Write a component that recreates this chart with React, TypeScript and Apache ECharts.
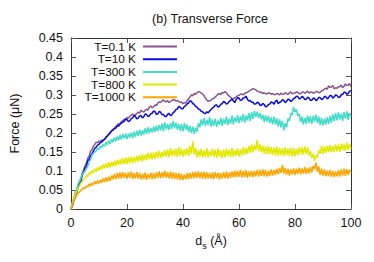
import React, { useEffect, useRef } from "react";
import * as echarts from "echarts";

const seriesNames = ["T=0.1 K", "T=10 K", "T=300 K", "T=800 K", "T=1000 K"];
const seriesColors = ["#8c5590", "#0a0af0", "#40dcc8", "#e2e800", "#ffa500"];

const xTicks = [0, 20, 40, 60, 80, 100];
const yTicks = [0, 0.05, 0.1, 0.15, 0.2, 0.25, 0.3, 0.35, 0.4, 0.45];

// d_s in Angstrom, step 0.5
const ds: number[] = Array.from({ length: 201 }, (_, i) => i / 2);

const forceT01 = [
  0.000, 0.014, 0.026, 0.036, 0.050, 0.058, 0.072, 0.080, 0.094, 0.102,
  0.114, 0.121, 0.134, 0.140, 0.152, 0.157, 0.166, 0.170, 0.176, 0.174,
  0.179, 0.177, 0.182, 0.180, 0.184, 0.187, 0.193, 0.196, 0.202, 0.205,
  0.210, 0.212, 0.217, 0.221, 0.225, 0.224, 0.230, 0.233, 0.236, 0.234,
  0.241, 0.239, 0.244, 0.247, 0.250, 0.246, 0.248, 0.251, 0.255, 0.252,
  0.260, 0.257, 0.255, 0.259, 0.263, 0.260, 0.268, 0.271, 0.266, 0.269,
  0.274, 0.272, 0.279, 0.282, 0.280, 0.284, 0.287, 0.283, 0.282, 0.285,
  0.280, 0.283, 0.285, 0.288, 0.287, 0.284, 0.286, 0.283, 0.280, 0.282,
  0.277, 0.280, 0.279, 0.285, 0.290, 0.295, 0.300, 0.298, 0.304, 0.302,
  0.306, 0.309, 0.308, 0.305, 0.303, 0.298, 0.292, 0.287, 0.283, 0.285,
  0.286, 0.290, 0.291, 0.295, 0.298, 0.302, 0.304, 0.301, 0.307, 0.305,
  0.309, 0.306, 0.300, 0.297, 0.294, 0.291, 0.290, 0.293, 0.295, 0.298,
  0.299, 0.302, 0.303, 0.300, 0.304, 0.306, 0.307, 0.310, 0.312, 0.314,
  0.317, 0.315, 0.314, 0.310, 0.309, 0.307, 0.307, 0.304, 0.306, 0.303,
  0.303, 0.306, 0.305, 0.302, 0.304, 0.301, 0.301, 0.304, 0.303, 0.300,
  0.305, 0.302, 0.302, 0.306, 0.304, 0.301, 0.306, 0.308, 0.303, 0.305,
  0.305, 0.308, 0.307, 0.303, 0.304, 0.307, 0.308, 0.305, 0.307, 0.310,
  0.305, 0.308, 0.308, 0.305, 0.306, 0.309, 0.309, 0.306, 0.307, 0.311,
  0.312, 0.316, 0.318, 0.315, 0.324, 0.320, 0.321, 0.325, 0.316, 0.319,
  0.318, 0.322, 0.322, 0.326, 0.319, 0.323, 0.329, 0.325, 0.326, 0.330,
  0.322,
];

const forceT10 = [
  0.000, 0.008, 0.022, 0.030, 0.041, 0.055, 0.065, 0.072, 0.088, 0.096,
  0.108, 0.112, 0.127, 0.131, 0.140, 0.146, 0.152, 0.160, 0.163, 0.168,
  0.170, 0.175, 0.176, 0.181, 0.183, 0.190, 0.192, 0.197, 0.200, 0.206,
  0.207, 0.212, 0.213, 0.219, 0.218, 0.223, 0.226, 0.229, 0.231, 0.237,
  0.236, 0.230, 0.232, 0.238, 0.240, 0.246, 0.244, 0.237, 0.239, 0.245,
  0.246, 0.240, 0.243, 0.250, 0.249, 0.243, 0.245, 0.251, 0.252, 0.258,
  0.256, 0.249, 0.250, 0.257, 0.255, 0.248, 0.249, 0.244, 0.243, 0.249,
  0.252, 0.246, 0.247, 0.254, 0.256, 0.262, 0.263, 0.270, 0.268, 0.264,
  0.264, 0.270, 0.272, 0.277, 0.279, 0.285, 0.283, 0.277, 0.276, 0.270,
  0.268, 0.263, 0.262, 0.257, 0.256, 0.252, 0.251, 0.256, 0.253, 0.258,
  0.262, 0.266, 0.268, 0.273, 0.274, 0.268, 0.270, 0.276, 0.277, 0.283,
  0.281, 0.276, 0.278, 0.283, 0.286, 0.290, 0.284, 0.280, 0.289, 0.293,
  0.292, 0.286, 0.287, 0.292, 0.293, 0.297, 0.289, 0.284, 0.286, 0.281,
  0.281, 0.276, 0.276, 0.281, 0.279, 0.273, 0.273, 0.278, 0.275, 0.269,
  0.270, 0.275, 0.276, 0.282, 0.280, 0.276, 0.283, 0.287, 0.277, 0.281,
  0.282, 0.288, 0.286, 0.280, 0.283, 0.289, 0.288, 0.283, 0.285, 0.291,
  0.292, 0.297, 0.296, 0.290, 0.291, 0.296, 0.294, 0.288, 0.289, 0.294,
  0.292, 0.286, 0.286, 0.292, 0.291, 0.285, 0.288, 0.294, 0.293, 0.288,
  0.290, 0.296, 0.296, 0.290, 0.293, 0.299, 0.298, 0.292, 0.295, 0.300,
  0.299, 0.294, 0.294, 0.301, 0.301, 0.307, 0.307, 0.302, 0.304, 0.310,
  0.311,
];

const forceT300 = [
  0.000, 0.018, 0.030, 0.045, 0.052, 0.066, 0.072, 0.080, 0.090, 0.095,
  0.100, 0.106, 0.113, 0.124, 0.130, 0.142, 0.146, 0.150, 0.153, 0.160,
  0.157, 0.166, 0.161, 0.170, 0.165, 0.176, 0.169, 0.180, 0.171, 0.184,
  0.176, 0.188, 0.178, 0.191, 0.181, 0.194, 0.183, 0.197, 0.186, 0.199,
  0.184, 0.198, 0.188, 0.201, 0.186, 0.203, 0.190, 0.206, 0.192, 0.209,
  0.193, 0.207, 0.196, 0.212, 0.198, 0.215, 0.199, 0.213, 0.202, 0.217,
  0.203, 0.219, 0.205, 0.221, 0.207, 0.225, 0.204, 0.228, 0.210, 0.224,
  0.208, 0.226, 0.211, 0.231, 0.213, 0.227, 0.209, 0.224, 0.206, 0.223,
  0.204, 0.226, 0.209, 0.222, 0.203, 0.219, 0.200, 0.217, 0.198, 0.214,
  0.203, 0.226, 0.215, 0.236, 0.220, 0.240, 0.218, 0.235, 0.221, 0.242,
  0.217, 0.236, 0.219, 0.238, 0.216, 0.233, 0.222, 0.240, 0.219, 0.237,
  0.224, 0.243, 0.221, 0.238, 0.225, 0.246, 0.223, 0.241, 0.228, 0.247,
  0.226, 0.244, 0.230, 0.250, 0.227, 0.246, 0.233, 0.252, 0.231, 0.255,
  0.237, 0.258, 0.242, 0.256, 0.240, 0.253, 0.236, 0.248, 0.229, 0.246,
  0.230, 0.245, 0.226, 0.241, 0.223, 0.243, 0.222, 0.239, 0.217, 0.236,
  0.215, 0.232, 0.207, 0.226, 0.215, 0.238, 0.232, 0.252, 0.247, 0.268,
  0.255, 0.262, 0.245, 0.250, 0.229, 0.243, 0.222, 0.240, 0.225, 0.246,
  0.227, 0.244, 0.224, 0.245, 0.230, 0.248, 0.226, 0.243, 0.221, 0.240,
  0.220, 0.238, 0.222, 0.241, 0.224, 0.245, 0.227, 0.249, 0.231, 0.252,
  0.233, 0.254, 0.236, 0.251, 0.232, 0.255, 0.238, 0.257, 0.234, 0.252,
  0.244,
];

const forceT800 = [
  0.000, 0.015, 0.028, 0.038, 0.045, 0.055, 0.060, 0.068, 0.072, 0.078,
  0.081, 0.088, 0.086, 0.096, 0.091, 0.102, 0.095, 0.106, 0.098, 0.110,
  0.101, 0.113, 0.104, 0.117, 0.107, 0.120, 0.108, 0.123, 0.110, 0.124,
  0.112, 0.127, 0.113, 0.129, 0.116, 0.131, 0.117, 0.133, 0.118, 0.135,
  0.119, 0.136, 0.121, 0.138, 0.120, 0.137, 0.123, 0.140, 0.124, 0.142,
  0.126, 0.144, 0.127, 0.143, 0.129, 0.147, 0.130, 0.148, 0.131, 0.149,
  0.132, 0.151, 0.134, 0.153, 0.135, 0.150, 0.137, 0.155, 0.138, 0.157,
  0.136, 0.160, 0.140, 0.156, 0.139, 0.158, 0.137, 0.162, 0.140, 0.159,
  0.138, 0.157, 0.141, 0.160, 0.139, 0.166, 0.145, 0.178, 0.143, 0.160,
  0.136, 0.155, 0.138, 0.158, 0.135, 0.154, 0.137, 0.160, 0.136, 0.153,
  0.140, 0.158, 0.137, 0.156, 0.135, 0.159, 0.138, 0.154, 0.134, 0.157,
  0.136, 0.158, 0.139, 0.156, 0.137, 0.160, 0.138, 0.155, 0.140, 0.159,
  0.138, 0.157, 0.141, 0.162, 0.143, 0.160, 0.145, 0.166, 0.148, 0.170,
  0.150, 0.168, 0.155, 0.182, 0.152, 0.170, 0.149, 0.167, 0.146, 0.165,
  0.145, 0.166, 0.144, 0.163, 0.143, 0.162, 0.141, 0.164, 0.140, 0.161,
  0.142, 0.160, 0.139, 0.162, 0.141, 0.159, 0.140, 0.161, 0.138, 0.160,
  0.139, 0.158, 0.141, 0.163, 0.144, 0.162, 0.143, 0.165, 0.145, 0.163,
  0.141, 0.152, 0.134, 0.145, 0.127, 0.141, 0.135, 0.154, 0.146, 0.166,
  0.145, 0.164, 0.148, 0.166, 0.150, 0.168, 0.149, 0.165, 0.151, 0.170,
  0.152, 0.169, 0.150, 0.172, 0.155, 0.170, 0.153, 0.174, 0.156, 0.171,
  0.158,
];

const forceT1000 = [
  0.000, 0.012, 0.022, 0.030, 0.036, 0.042, 0.044, 0.049, 0.051, 0.056,
  0.054, 0.061, 0.058, 0.066, 0.060, 0.069, 0.063, 0.073, 0.065, 0.075,
  0.067, 0.077, 0.069, 0.080, 0.071, 0.083, 0.072, 0.085, 0.074, 0.088,
  0.078, 0.092, 0.079, 0.094, 0.080, 0.096, 0.081, 0.097, 0.082, 0.095,
  0.080, 0.096, 0.082, 0.098, 0.079, 0.094, 0.081, 0.097, 0.080, 0.095,
  0.078, 0.093, 0.079, 0.096, 0.077, 0.092, 0.080, 0.095, 0.079, 0.094,
  0.080, 0.097, 0.082, 0.099, 0.081, 0.096, 0.083, 0.100, 0.082, 0.097,
  0.081, 0.098, 0.080, 0.096, 0.079, 0.095, 0.078, 0.094, 0.077, 0.092,
  0.076, 0.091, 0.078, 0.094, 0.079, 0.095, 0.080, 0.097, 0.081, 0.098,
  0.082, 0.099, 0.081, 0.097, 0.080, 0.098, 0.079, 0.096, 0.081, 0.095,
  0.080, 0.096, 0.079, 0.097, 0.081, 0.095, 0.078, 0.094, 0.080, 0.097,
  0.081, 0.098, 0.080, 0.096, 0.082, 0.099, 0.083, 0.101, 0.084, 0.100,
  0.085, 0.103, 0.083, 0.100, 0.084, 0.102, 0.082, 0.099, 0.085, 0.101,
  0.084, 0.100, 0.086, 0.103, 0.085, 0.102, 0.087, 0.104, 0.086, 0.103,
  0.085, 0.101, 0.087, 0.104, 0.088, 0.103, 0.090, 0.106, 0.091, 0.108,
  0.095, 0.116, 0.093, 0.108, 0.090, 0.106, 0.088, 0.104, 0.091, 0.107,
  0.090, 0.106, 0.092, 0.109, 0.091, 0.107, 0.093, 0.110, 0.092, 0.108,
  0.094, 0.111, 0.096, 0.114, 0.105, 0.122, 0.097, 0.112, 0.090, 0.106,
  0.088, 0.104, 0.086, 0.101, 0.087, 0.103, 0.085, 0.100, 0.084, 0.099,
  0.086, 0.102, 0.085, 0.104, 0.088, 0.106, 0.087, 0.105, 0.089, 0.103,
  0.096,
];

const allForces = [forceT01, forceT10, forceT300, forceT800, forceT1000];

const FONT = "Liberation Sans, Arial, Helvetica, sans-serif";

export default function App() {
  const ref = useRef<HTMLDivElement>(null);
  useEffect(() => {
    if (!ref.current) return;
    const chart = echarts.init(ref.current, null, { renderer: "svg" });
    const legendRight = 136;
    const legendTop = 46.5;
    const legendStep = 12.7;
    const legendGraphics: any[] = [];
    seriesNames.forEach((name, i) => {
      const y = legendTop + i * legendStep;
      legendGraphics.push({
        type: "text",
        x: legendRight,
        y,
        style: {
          text: name,
          fill: "#111",
          fontFamily: FONT,
          fontSize: 11.8,
          lineHeight: 12,
          align: "right",
          verticalAlign: "middle",
        },
      });
      legendGraphics.push({
        type: "line",
        shape: { x1: 143, y1: y, x2: 177, y2: y },
        style: { stroke: seriesColors[i], lineWidth: 2 },
      });
    });

    const axisCommon = {
      type: "value" as const,
      splitLine: { show: false },
      axisLine: { show: true, onZero: false, lineStyle: { color: "#333", width: 1 } },
      axisTick: { show: true, inside: true, length: 5, lineStyle: { color: "#555" } },
    };

    chart.setOption({
      animation: false,
      backgroundColor: "#ffffff",
      title: {
        text: "(b) Transverse Force",
        left: 210,
        top: 12,
        padding: 0,
        textAlign: "center",
        textStyle: { fontFamily: FONT, fontSize: 12.5, fontWeight: "normal", color: "#111" },
      },
      grid: { left: 69, right: 23, top: 38, bottom: 53 },
      xAxis: [
        {
          ...axisCommon,
          position: "bottom",
          min: xTicks[0],
          max: xTicks[xTicks.length - 1],
          interval: 20,
          axisLabel: { margin: 7, fontFamily: FONT, fontSize: 12.5, color: "#111" },
          name: "{a|d}{b|s}{a| (Å)}",
          nameLocation: "middle",
          nameGap: 25,
          nameTextStyle: {
            fontFamily: FONT,
            color: "#111",
            rich: {
              a: { fontFamily: FONT, fontSize: 12.5, color: "#111", verticalAlign: "top", lineHeight: 18 },
              b: { fontFamily: FONT, fontSize: 9, color: "#111", verticalAlign: "top", padding: [7, 0, 0, 0], lineHeight: 18 },
            },
          },
        },
        {
          ...axisCommon,
          position: "top",
          min: xTicks[0],
          max: xTicks[xTicks.length - 1],
          interval: 20,
          axisLabel: { show: false },
        },
      ],
      yAxis: [
        {
          ...axisCommon,
          position: "left",
          min: yTicks[0],
          max: yTicks[yTicks.length - 1],
          interval: 0.05,
          axisLabel: {
            margin: 8,
            fontFamily: FONT,
            fontSize: 12.5,
            color: "#111",
            formatter: (v: number) => String(+v.toFixed(2)),
          },
          name: "Force (μN)",
          nameLocation: "middle",
          nameGap: 50,
          nameTextStyle: { fontFamily: FONT, fontSize: 12.5, color: "#111" },
        },
        {
          ...axisCommon,
          position: "right",
          min: yTicks[0],
          max: yTicks[yTicks.length - 1],
          interval: 0.05,
          axisLabel: { show: false },
        },
      ],
      series: seriesNames.map((name, i) => ({
        name,
        type: "line",
        xAxisIndex: 0,
        yAxisIndex: 0,
        showSymbol: false,
        symbol: "none",
        data: ds.map((d, j) => [d, allForces[i][j]]),
        lineStyle: { color: seriesColors[i], width: 1.5 },
        itemStyle: { color: seriesColors[i] },
        z: 2 + i,
      })),
      graphic: legendGraphics,
    });
    return () => chart.dispose();
  }, []);
  return (
    <div
      ref={ref}
      style={{ position: "absolute", left: 0, top: 0, width: 374, height: 262 }}
    />
  );
}
